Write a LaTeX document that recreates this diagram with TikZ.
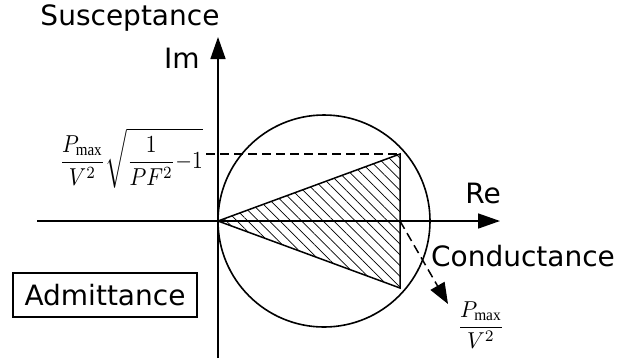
\documentclass[tikz,border=0pt]{standalone}
\usepackage{fontspec}
\setmainfont{DejaVu Sans}
\setmathrm{Liberation Serif}
\usetikzlibrary{arrows.meta,patterns.meta}
\begin{document}
\begin{tikzpicture}[x=1pt,y=-1pt,
  axis/.style={line width=1.6pt,-{Triangle[length=22pt,width=15pt]}},
  lbl/.style={inner sep=0pt,font=\fontsize{28}{32}\selectfont},
  dline/.style={line width=1.5pt,dash pattern=on 9pt off 5pt},
  frm/.style={inner sep=0pt}]
\useasboundingbox (0,0) rectangle (636,360);
\coordinate (O) at (218,221);
\coordinate (T) at (400,154);
\coordinate (B) at (400,288);
\coordinate (M) at (400,221);
\coordinate (xs) at (37,221);
\coordinate (xe) at (500,221);
\coordinate (ys) at (218,358);
\coordinate (ye) at (218,37);
\coordinate (tip) at (448,304);
\coordinate (ds) at (206,154);
% hatched triangle
\fill[pattern={Lines[angle=-45,distance=7.6pt,line width=0.7pt]}] (O) -- (T) -- (B) -- cycle;
\draw[line width=1.5pt,line join=miter] (O) -- (T) -- (B) -- cycle;
% circle
\node[draw,circle,line width=1.6pt,minimum size=212pt,inner sep=0pt] (C) at (324,221) {};
% axes
\draw[axis] (xs) -- (xe);
\draw[axis] (ys) -- (ye);
% labels
\node[lbl] (sus) at (130,18) {Susceptance};
\node[lbl] (im) at (182,58) {Im};
\node[lbl] (re) at (483,193) {Re};
\node[lbl] (cond) at (523,256) {Conductance};
\node[lbl,draw,line width=1.2pt,minimum width=184pt,minimum height=44pt] (adm) at (105,295) {Admittance};
% formula
\node[frm,anchor=east] (f1) at (203,158) {\scalebox{2.15}[2.45]{$\displaystyle \frac{P_{\max}}{V^2}\sqrt{\frac{1}{PF^2}{-}1}$}};
\draw[dline] (ds) -- (T);
% dashed arrow
\draw[dline,-{Triangle[length=21pt,width=16pt]}] (M) -- (tip);
\node[frm] (f2) at (481,325) {\scalebox{2.2}[2.3]{$\displaystyle \frac{P_{\max}}{V^2}$}};
\end{tikzpicture}
\end{document}
